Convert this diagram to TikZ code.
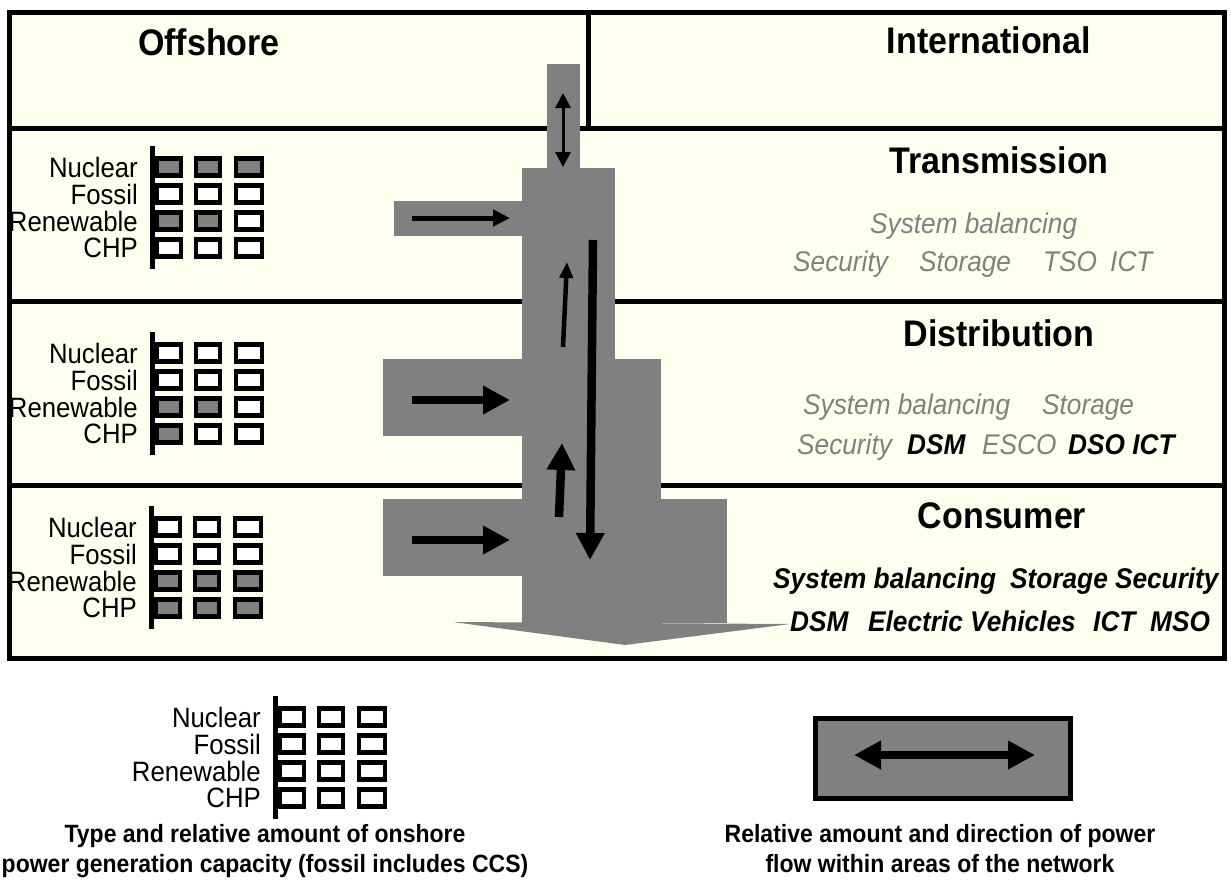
\documentclass[tikz,border=0pt]{standalone}
\usepackage{fontspec}
\setmainfont{Liberation Sans}[FakeStretch=0.92]
\usetikzlibrary{arrows.meta}
\definecolor{panelbg}{RGB}{255, 255, 240}
\definecolor{flowgrey}{RGB}{128, 128, 128}
\definecolor{notegrey}{RGB}{128, 128, 128}

% generation grid: #1 x of bar, #2 y of first row, #3-#6 fills per row
\newcommand{\gengrid}[6]{%
  \draw[line width=5pt] (#1,#2-21) -- (#1,#2+102);
  \foreach \lbl/\fa/\fb/\fc [count=\i from 0] in {Nuclear/#3, Fossil/#4, Renewable/#5, CHP/#6} {
    \node[gridlabel, anchor=east] at (#1-14,#2+27*\i) {\lbl};
    \draw[genbox, fill=\fa] (#1+5,#2+27*\i-8.5) rectangle ++(24,17);
    \draw[genbox, fill=\fb] (#1+44,#2+27*\i-8.5) rectangle ++(24,17);
    \draw[genbox, fill=\fc] (#1+84,#2+27*\i-8.5) rectangle ++(26,17);
  }%
}

\begin{document}
\begin{tikzpicture}[x=1pt, y=-1pt,
    title/.style={font=\fontsize{37}{42}\selectfont\bfseries, inner sep=0pt, anchor=base},
    note/.style={font=\fontsize{28.5}{32}\selectfont\itshape, text=notegrey, inner sep=0pt, anchor=base west},
    keyword/.style={font=\fontsize{28.5}{32}\selectfont\bfseries\itshape, inner sep=0pt, anchor=base west},
    gridlabel/.style={font=\fontsize{28}{30}\selectfont, inner sep=0pt},
    genbox/.style={line width=4.5pt},
    caption/.style={font=\fontsize{25}{30}\selectfont\bfseries, inner sep=0pt, anchor=base},
    bigflow/.style={line width=8.5pt, -{Triangle[width=27pt, length=27pt]}}]
    \useasboundingbox (0,0) rectangle (1231,886);

    % Panel background and dividing lines
    \fill[panelbg] (9,12) rectangle (1224,658);
    \draw[line width=5pt] (9,128) -- (1224,128);
    \draw[line width=5pt] (9,301) -- (1224,301);
    \draw[line width=5pt] (9,485) -- (1224,485);
    \draw[line width=5pt] (588,12) -- (588,128);
    \draw[line width=5pt] (9,12) rectangle (1224,658);

    % Area titles
    \node[title] (offshore) at (209,55) {Offshore};
    \node[title] (international) at (989,53) {International};
    \node[title] (transmission) at (999,173) {Transmission};
    \node[title] (distribution) at (999,346) {Distribution};
    \node[title] (consumer) at (1002,528) {Consumer};

    % Power flow shape
    \fill[flowgrey] (547,64) rectangle (580,168);
    \fill[flowgrey] (522,168) rectangle (615,623);
    \fill[flowgrey] (394,201) rectangle (522,236);
    \fill[flowgrey] (522,359) rectangle (661,623);
    \fill[flowgrey] (383,359) rectangle (522,436);
    \fill[flowgrey] (522,499) rectangle (727,623);
    \fill[flowgrey] (383,499) rectangle (522,576);
    \fill[flowgrey] (453,622) -- (790,624) -- (625,645) -- cycle;

    % Flow directions
    \draw[line width=3pt, {Triangle[width=15pt, length=15pt]}-{Triangle[width=15pt, length=15pt]}]
        (563,93) -- (563,167);
    \draw[line width=5pt, -{Triangle[width=16pt, length=17pt]}] (412,218) -- (510,218);
    \draw[line width=4.5pt, -{Triangle[width=13pt, length=16pt]}] (563,347) -- (567,262);
    \draw[bigflow] (593,240) -- (590,560);
    \draw[bigflow] (559,517) -- (562,443);
    \draw[bigflow] (412,400) -- (510,400);
    \draw[bigflow] (412,540) -- (510,540);

    % Generation grids
    \gengrid{152}{167}{flowgrey/flowgrey/flowgrey}{white/white/white}{flowgrey/flowgrey/white}{white/white/white}
    \gengrid{152}{353}{white/white/white}{white/white/white}{flowgrey/flowgrey/white}{flowgrey/white/white}
    \gengrid{151}{527}{white/white/white}{white/white/white}{flowgrey/flowgrey/flowgrey}{flowgrey/flowgrey/flowgrey}

    % Transmission notes
    \node[note] at (870,233) {System balancing};
    \node[note] at (793,271) {Security};
    \node[note] at (919,271) {Storage};
    \node[note] at (1043,271) {TSO};
    \node[note] at (1110,271) {ICT};

    % Distribution notes
    \node[note] at (803,414) {System balancing};
    \node[note] at (1042,414) {Storage};
    \node[note] at (797,454) {Security};
    \node[keyword] at (907,454) {DSM};
    \node[note] at (982,454) {ESCO};
    \node[keyword] at (1068,454) {DSO ICT};

    % Consumer notes
    \node[keyword] at (773,588) {System balancing};
    \node[keyword] at (1010,588) {Storage Security};
    \node[keyword] at (790,631) {DSM};
    \node[keyword] at (868,631) {Electric Vehicles};
    \node[keyword] at (1093,631) {ICT};
    \node[keyword] at (1150,631) {MSO};

    % Legend
    \gengrid{275}{717}{white/white/white}{white/white/white}{white/white/white}{white/white/white}
    \node[caption] at (265,842) {Type and relative amount of onshore};
    \node[caption] at (265,872) {power generation capacity (fossil includes CCS)};

    \draw[line width=5pt, fill=flowgrey] (815,718) rectangle (1070,798);
    \draw[line width=8.5pt, {Triangle[width=27pt, length=27pt]}-{Triangle[width=27pt, length=27pt]}]
        (854,755) -- (1035,755);
    \node[caption] at (940,842) {Relative amount and direction of power};
    \node[caption] at (940,872) {flow within areas of the network};

\end{tikzpicture}
\end{document}
